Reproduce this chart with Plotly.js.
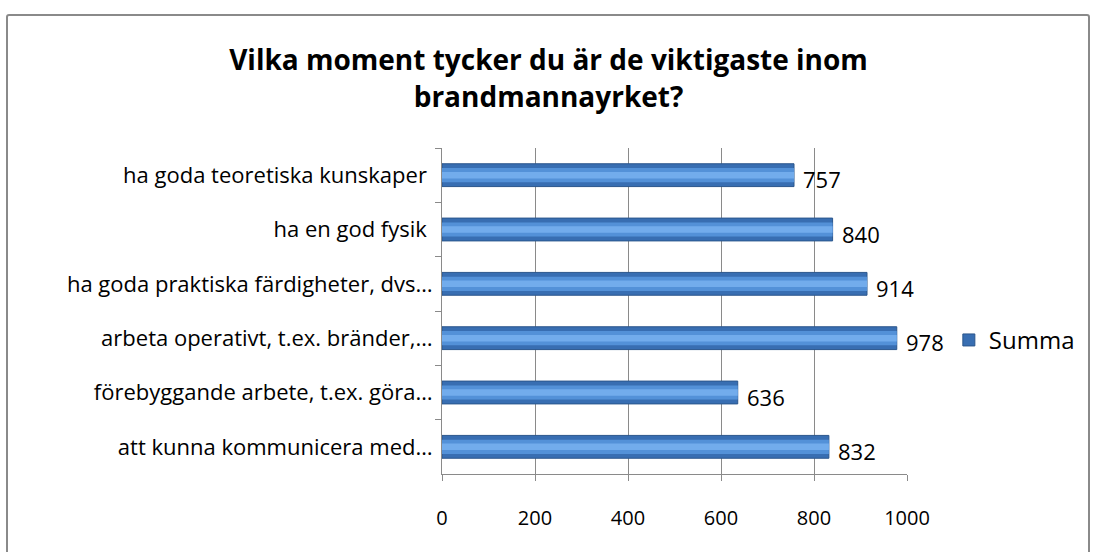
<!DOCTYPE html>
<html><head><meta charset="utf-8">
<script src="https://cdn.plot.ly/plotly-3.0.1.min.js"></script>
<style>
html,body{margin:0;padding:0;background:#fff;}
#chart{position:absolute;left:0;top:0;width:1097px;height:552px;}
#frame{position:absolute;left:6px;top:14px;width:1080px;height:560px;border:2px solid #8a8a8a;border-radius:3px;pointer-events:none;}
</style></head>
<body>
<div id="chart"></div>
<div id="frame"></div>
<script>
const categories = [
  "ha goda teoretiska kunskaper ",
  "ha en god fysik ",
  "ha goda praktiska färdigheter, dvs…",
  "arbeta operativt, t.ex. bränder,…",
  "förebyggande arbete, t.ex. göra…",
  "att kunna kommunicera med…"
];
const values = [757, 840, 914, 978, 636, 832];
const seriesName = "Summa";
const xTicks = [0, 200, 400, 600, 800, 1000];

const FONT = "'Open Sans', sans-serif";

const traces = [
  {
    type: "bar", orientation: "h", y: categories, x: values, name: seriesName,
    width: 0.42,
    marker: {color: "#386eb2", line: {color: "#2b568c", width: 1}},
    hoverinfo: "x+y", showlegend: true
  },
  {
    type: "bar", orientation: "h", y: categories, x: values, name: seriesName,
    width: 0.26,
    marker: {color: "#5391d8", line: {width: 0}},
    hoverinfo: "skip", showlegend: false
  },
  {
    type: "bar", orientation: "h", y: categories, x: values, name: seriesName,
    width: 0.12,
    marker: {color: "#72acec", line: {width: 0}},
    hoverinfo: "skip", showlegend: false
  }
];

const annotations = categories.map((c, i) => ({
  x: values[i], y: c, xref: "x", yref: "y",
  text: String(values[i]), showarrow: false,
  xanchor: "left", yanchor: "middle", xshift: 7, yshift: -4,
  font: {family: FONT, size: 22, color: "#000"}
}));

const layout = {
  width: 1097, height: 552,
  margin: {l: 442, r: 190, t: 148, b: 78, pad: 0},
  paper_bgcolor: "#fff", plot_bgcolor: "#fff",
  barmode: "overlay",
  title: {
    text: "<b>Vilka moment tycker du är de viktigaste inom<br>brandmannayrket?</b>",
    x: 0.5, xref: "container", xanchor: "center", y: 0.873, yref: "container", yanchor: "middle",
    font: {family: FONT, size: 28, color: "#000"}
  },
  font: {family: FONT, size: 22, color: "#000"},
  xaxis: {
    range: [0, 1000], tickvals: xTicks, ticktext: xTicks.map(String),
    showgrid: true, gridcolor: "#8a8a8a", gridwidth: 1,
    showline: true, linecolor: "#8a8a8a", linewidth: 1,
    ticks: "outside", ticklen: 6, tickcolor: "#8a8a8a",
    tickfont: {family: FONT, size: 20, color: "#000"},
    zeroline: false, mirror: false, fixedrange: true, ticklabelstandoff: 20
  },
  yaxis: {
    type: "category", autorange: "reversed",
    showline: true, linecolor: "#8a8a8a", linewidth: 1,
    ticks: "outside", ticklen: 6, tickcolor: "#8a8a8a", tickson: "boundaries",
    tickfont: {family: FONT, size: 22, color: "#000"},
    showgrid: false, zeroline: false, fixedrange: true, ticklabelstandoff: 4
  },
  legend: {
    x: 1.09, xanchor: "left", y: 0.41, yanchor: "middle",
    font: {family: FONT, size: 24, color: "#000"},
    bgcolor: "rgba(0,0,0,0)", itemwidth: 30
  },
  annotations: annotations,
  showlegend: true
};

Plotly.newPlot("chart", traces, layout, {displayModeBar: false, staticPlot: true});
</script>
</body></html>
